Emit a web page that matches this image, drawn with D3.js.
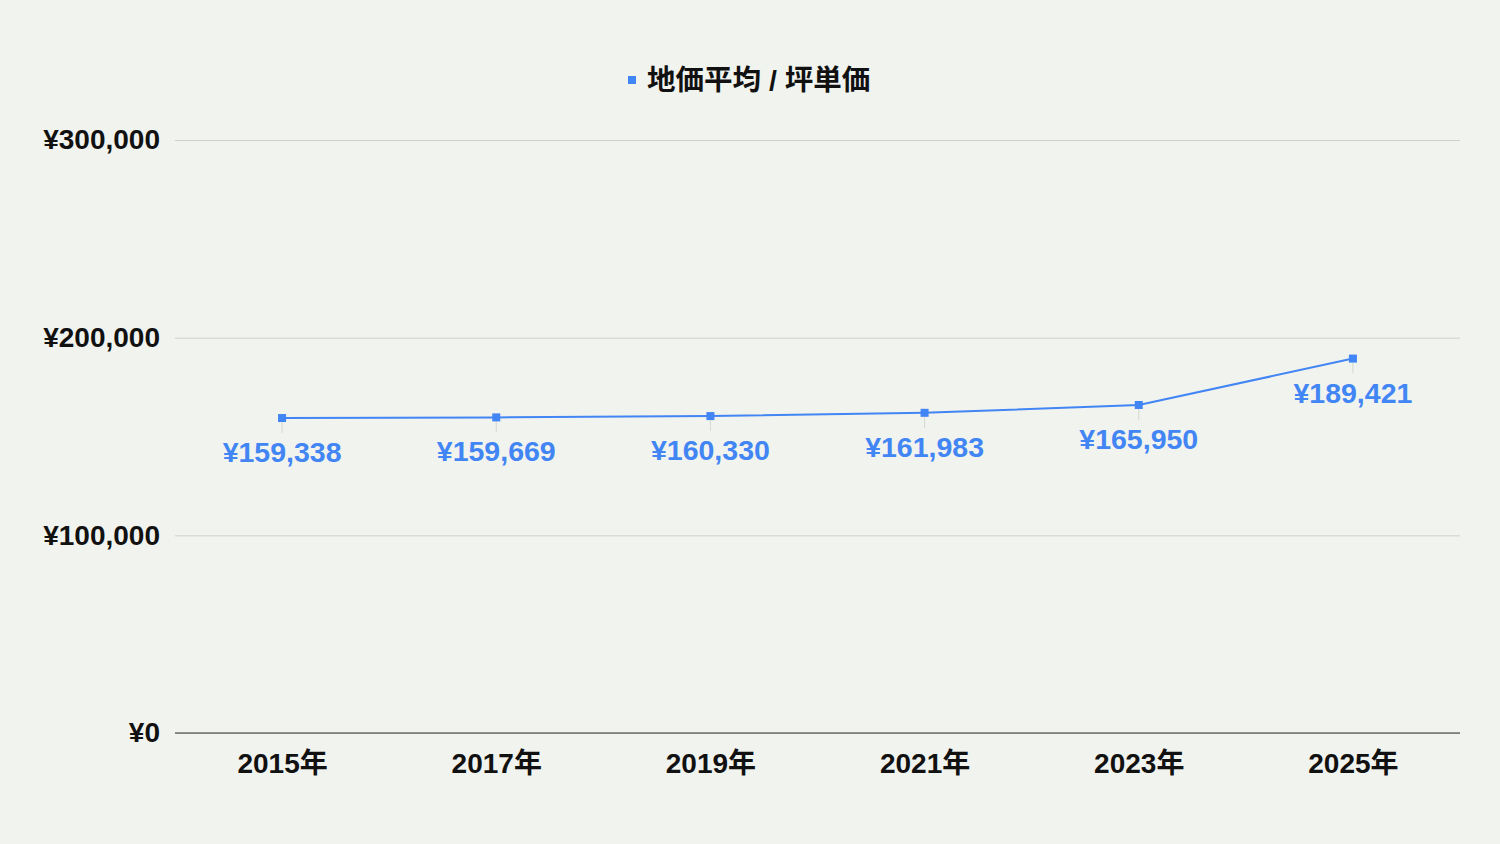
<!DOCTYPE html>
<html>
<head>
<meta charset="utf-8">
<script src="https://cdn.jsdelivr.net/npm/d3@7"></script>
<style>
  body { margin: 0; background: #f1f3ee; }
  text { font-family: "Liberation Sans", Arial, "Noto Sans CJK JP", sans-serif; }
</style>
</head>
<body>
<div id="chart"></div>
<script>
// data
const years = ['2015年', '2017年', '2019年', '2021年', '2023年', '2025年'];
const prices = [159338, 159669, 160330, 161983, 165950, 189421];
const yTicks = [0, 100000, 200000, 300000];
const seriesName = '地価平均 / 坪単価';

const width = 1500, height = 844;
const margin = { top: 140, right: 40, bottom: 111, left: 175 };
const innerW = width - margin.left - margin.right;
const innerH = height - margin.top - margin.bottom;
const blue = '#4285f4';

const svg = d3.select('#chart').append('svg')
    .attr('width', width)
    .attr('height', height)
    .style('background', '#f1f3ee');

const chart = svg.append('g')
    .attr('transform', `translate(${margin.left},${margin.top})`);

const xScale = d3.scalePoint()
    .domain(years)
    .range([0, innerW])
    .padding(0.5);

const yScale = d3.scaleLinear()
    .domain([0, 300000])
    .range([innerH, 0]);

const fmt = v => '¥' + d3.format(',')(v);

// gridlines + y labels
const yAxis = d3.axisLeft(yScale)
    .tickValues(yTicks)
    .tickFormat(fmt)
    .tickSize(-innerW)
    .tickPadding(15);

chart.append('g')
    .attr('class', 'y-axis')
    .call(yAxis)
    .call(g => g.select('.domain').remove())
    .call(g => g.selectAll('.tick line').attr('stroke', '#cfd0cc'))
    .call(g => g.selectAll('.tick text')
        .attr('fill', '#111')
        .style('font-size', '28px')
        .style('font-weight', 'bold'));

// baseline
chart.append('line')
    .attr('x1', 0).attr('x2', innerW)
    .attr('y1', yScale(0)).attr('y2', yScale(0))
    .attr('stroke', '#333').attr('stroke-width', 1.2);

// x labels
const xAxis = d3.axisBottom(xScale).tickSize(0).tickPadding(20);
chart.append('g')
    .attr('class', 'x-axis')
    .attr('transform', `translate(0,${innerH})`)
    .call(xAxis)
    .call(g => g.select('.domain').remove())
    .call(g => g.selectAll('.tick text')
        .attr('fill', '#111')
        .style('font-size', '28px')
        .style('font-weight', 'bold'));

const data = years.map((y, i) => ({ year: y, value: prices[i] }));

// leader lines
chart.selectAll('.leader')
    .data(data)
  .join('line')
    .attr('class', 'leader')
    .attr('x1', d => xScale(d.year)).attr('x2', d => xScale(d.year))
    .attr('y1', d => yScale(d.value)).attr('y2', d => yScale(d.value) + 15)
    .attr('stroke', '#d6d8d2').attr('stroke-width', 1);

// line
const line = d3.line()
    .x(d => xScale(d.year))
    .y(d => yScale(d.value));

chart.append('path')
    .datum(data)
    .attr('fill', 'none')
    .attr('stroke', blue)
    .attr('stroke-width', 2)
    .attr('d', line);

// markers
chart.selectAll('.point')
    .data(data)
  .join('rect')
    .attr('class', 'point')
    .attr('x', d => xScale(d.year) - 4)
    .attr('y', d => yScale(d.value) - 4)
    .attr('width', 8)
    .attr('height', 8)
    .attr('fill', blue);

// value labels
chart.selectAll('.value-label')
    .data(data)
  .join('text')
    .attr('class', 'value-label')
    .attr('x', d => xScale(d.year))
    .attr('y', d => yScale(d.value) + 44)
    .attr('text-anchor', 'middle')
    .attr('fill', blue)
    .style('font-size', '28.5px')
    .style('font-weight', 'bold')
    .text(d => fmt(d.value));

// legend
const legend = svg.append('g')
    .attr('transform', 'translate(750,80)');

legend.append('text')
    .attr('x', -103)
    .attr('y', 10)
    .attr('fill', '#111')
    .style('font-size', '28.5px')
    .style('font-weight', 'bold')
    .text(seriesName);

legend.append('rect')
    .attr('x', -122)
    .attr('y', -4)
    .attr('width', 8)
    .attr('height', 8)
    .attr('fill', blue);
</script>
</body>
</html>
